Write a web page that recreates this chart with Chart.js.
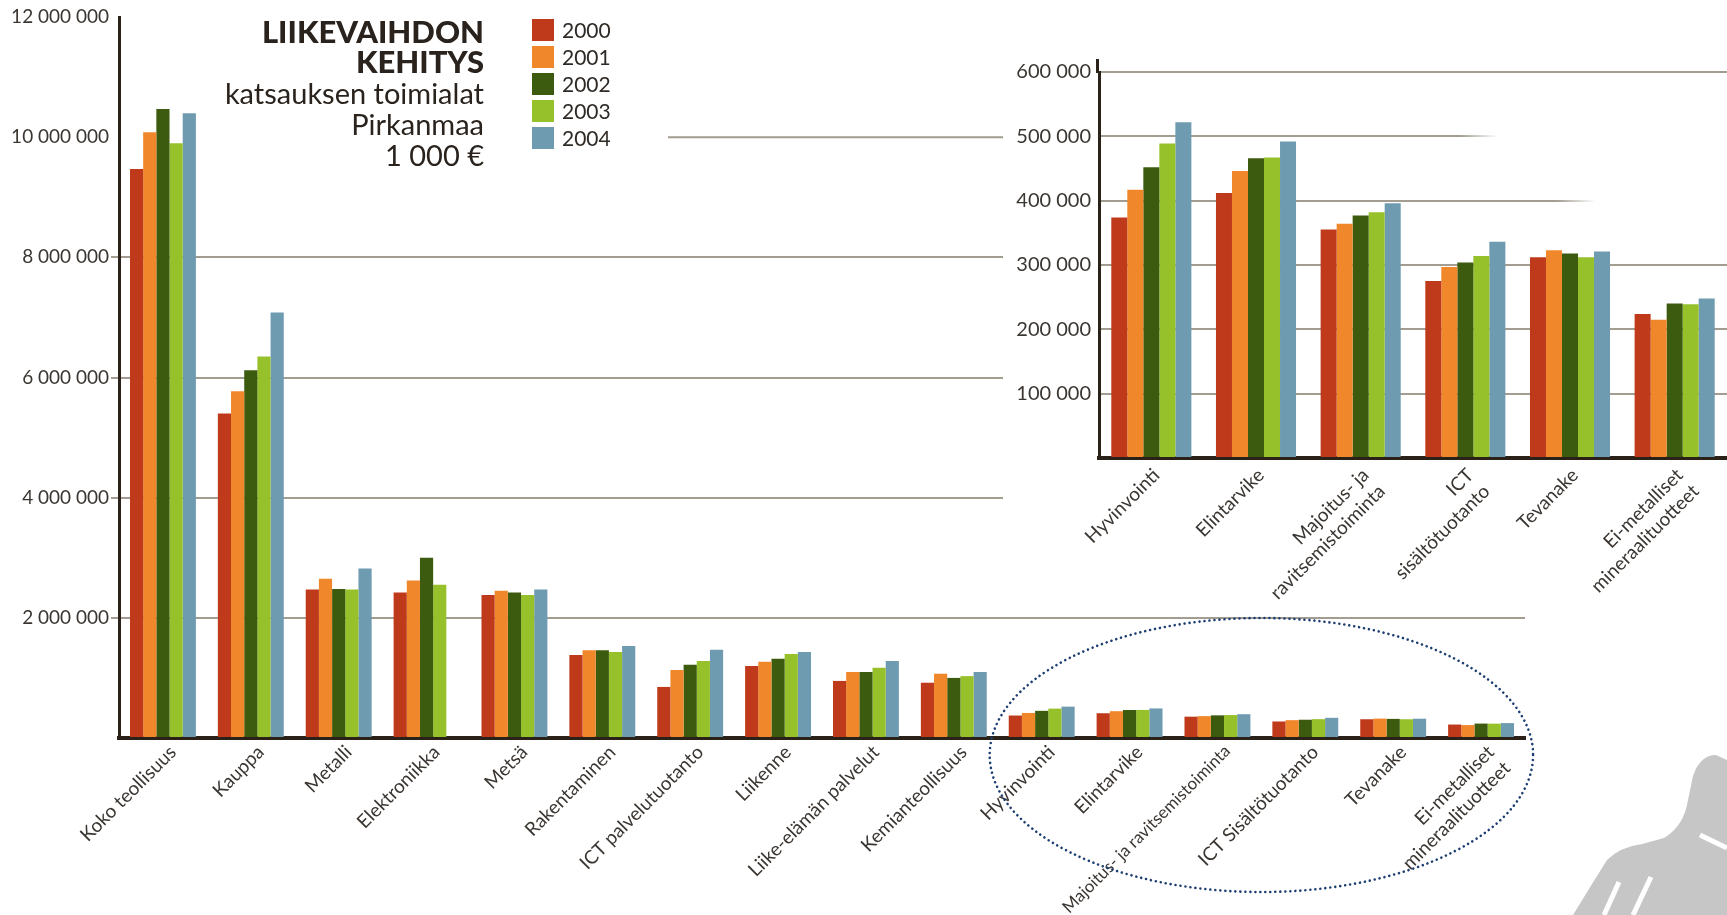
<!DOCTYPE html>
<html><head><meta charset="utf-8">
<script src="https://cdn.jsdelivr.net/npm/chart.js@4.4.0/dist/chart.umd.min.js"></script>
<style>
html,body{margin:0;padding:0;background:#fff;overflow:hidden}
#wrap{position:relative;width:1727px;height:915px;background:#fff}
#main{position:absolute;left:0;top:0}
#inset{position:absolute;left:1003px;top:0;background:#fff}
</style></head><body>
<div id="wrap"><canvas id="main" width="1727" height="915"></canvas><canvas id="inset" width="724" height="614"></canvas></div>
<script>
// ---------- DATA (1 000 €) ----------
const categories = ['Koko teollisuus','Kauppa','Metalli','Elektroniikka','Metsä','Rakentaminen','ICT palvelutuotanto','Liikenne','Liike-elämän palvelut','Kemianteollisuus','Hyvinvointi','Elintarvike','Majoitus- ja ravitsemistoiminta','ICT Sisältötuotanto','Tevanake',['Ei-metalliset','mineraalituotteet']];
const years = ['2000','2001','2002','2003','2004'];
const v2000 = [9470000,5400000,2470000,2420000,2380000,1380000,850000,1200000,950000,920000,374000,412000,355000,275000,312000,224000];
const v2001 = [10080000,5770000,2650000,2620000,2450000,1460000,1130000,1270000,1100000,1070000,417000,446000,364000,297000,323000,215000];
const v2002 = [10470000,6120000,2480000,3000000,2420000,1460000,1220000,1320000,1100000,1000000,452000,466000,377000,304000,318000,240000];
const v2003 = [9900000,6350000,2470000,2550000,2380000,1430000,1280000,1400000,1170000,1030000,489000,467000,382000,314000,312000,239000];
const v2004 = [10400000,7080000,2820000,null,2470000,1530000,1470000,1430000,1280000,1100000,522000,492000,396000,336000,321000,248000];
const insetCategories = ['Hyvinvointi','Elintarvike',['Majoitus- ja','ravitsemistoiminta'],['ICT','sisältötuotanto'],'Tevanake',['Ei-metalliset','mineraalituotteet']];
const insetFrom = 10; // inset shows the last six industries
const titleLines = ['LIIKEVAIHDON','KEHITYS'];
const subtitleLines = ['katsauksen toimialat','Pirkanmaa','1 000 €'];
const mainMax = 12000000, mainStep = 2000000;
const insetMax = 600000, insetStep = 100000;

// ---------- STYLE ----------
const colors = ['#bf3a1b','#f0872a','#3d5b0e','#97c12b','#6f9bb1'];
const seriesValues = [v2000,v2001,v2002,v2003,v2004];
const textCol = '#3b3631';
const gridCol = '#a29c91';
const axisCol = '#2a2118';
Chart.defaults.font.family = 'Lato, "Open Sans", sans-serif';
Chart.defaults.color = textCol;
const fmt = v => String(v).replace(/\B(?=(\d{3})+(?!\d))/g, ' ');
const clear = 'rgba(0,0,0,0)';

function makeDatasets(sliceFrom){
  return years.map((y,i)=>({
    label:y,
    data: sliceFrom==null ? seriesValues[i] : seriesValues[i].slice(sliceFrom),
    backgroundColor: colors[i],
    borderWidth:0,
    categoryPercentage: sliceFrom==null ? 0.75 : 0.765,
    barPercentage: 1.0
  }));
}

const decorPlugin = {
  id:'decor',
  beforeDatasetsDraw(chart){
    const {ctx, chartArea, scales} = chart;
    const y10 = scales.y.getPixelForValue(10000000);
    ctx.save();
    ctx.strokeStyle = gridCol; ctx.lineWidth = 2;
    ctx.beginPath(); ctx.moveTo(668, y10); ctx.lineTo(chartArea.right, y10); ctx.stroke();
    ctx.restore();
  },
  afterDraw(chart){
    const {ctx, scales} = chart;
    ctx.save();
    // title block
    ctx.fillStyle = '#2a231d';
    ctx.textAlign = 'right'; ctx.textBaseline = 'alphabetic';
    ctx.font = '900 31px Lato, sans-serif';
    titleLines.forEach((t,i)=> ctx.fillText(t, 484, 43 + i*30));
    ctx.font = '400 29px Lato, sans-serif';
    subtitleLines.forEach((t,i)=> ctx.fillText(t, 484, 104 + i*31));
    // legend
    ctx.textAlign = 'left'; ctx.textBaseline = 'middle';
    ctx.font = '400 21px Lato, sans-serif';
    chart.data.datasets.forEach((ds,i)=>{
      const top = 19 + i*27;
      ctx.fillStyle = ds.backgroundColor;
      ctx.fillRect(532, top, 22, 22);
      ctx.fillStyle = '#2f2a25';
      ctx.fillText(ds.label, 562, top + 12);
    });
    // dotted ellipse around the small industries
    const x0 = scales.x.getPixelForValue(insetFrom);
    const x1 = scales.x.getPixelForValue(categories.length-1);
    const base = scales.y.getPixelForValue(0);
    ctx.strokeStyle = '#1c3e72';
    ctx.lineWidth = 2.6; ctx.lineCap = 'round';
    ctx.setLineDash([0.01, 5]);
    ctx.beginPath();
    ctx.ellipse((x0+x1)/2, base + 17, (x1-x0)/2 + 52, 137, 0, 0, Math.PI*2);
    ctx.stroke();
    ctx.setLineDash([]);
    // grey logo (decoration, bottom right)
    ctx.fillStyle = '#c6c6c6';
    ctx.beginPath();
    ctx.moveTo(1573,915); ctx.lineTo(1592,884); ctx.lineTo(1607,860);
    ctx.quadraticCurveTo(1620,847,1642,844);
    ctx.lineTo(1664,838);
    ctx.quadraticCurveTo(1684,826,1688,800);
    ctx.lineTo(1693,776);
    ctx.quadraticCurveTo(1700,755,1716,755);
    ctx.lineTo(1727,760); ctx.lineTo(1727,915); ctx.closePath(); ctx.fill();
    ctx.strokeStyle = '#fff'; ctx.lineWidth = 5; ctx.lineCap = 'butt';
    ctx.beginPath(); ctx.moveTo(1619,882); ctx.lineTo(1604,915); ctx.stroke();
    ctx.beginPath(); ctx.moveTo(1651,877); ctx.lineTo(1633,915); ctx.stroke();
    ctx.beginPath(); ctx.moveTo(1700,835); ctx.lineTo(1727,848); ctx.stroke();
    ctx.restore();
  }
};

new Chart(document.getElementById('main'), {
  type:'bar',
  data:{ labels: categories, datasets: makeDatasets(null) },
  options:{
    responsive:false, devicePixelRatio:1, animation:false,
    layout:{padding:{top:17,right:202,left:0,bottom:0}},
    plugins:{legend:{display:false}, tooltip:{enabled:false}},
    scales:{
      x:{
        grid:{display:false, drawTicks:false},
        border:{color:axisCol, width:4},
        ticks:{autoSkip:false, maxRotation:45, minRotation:45, padding:3, labelOffset:10,
               font:c=>{ const l = categories[c.index]; return {size: (typeof l === 'string' && l.length > 25) ? 17 : 19}; },
               color:textCol},
        afterFit:s=>{ s.height = 177; }
      },
      y:{
        min:0, max:mainMax,
        ticks:{stepSize:mainStep, padding:2, font:{size:19}, color:textCol, callback:v=> v===0 ? '' : fmt(v)},
        grid:{lineWidth:2, tickLength:8, color:c=> (c.tick && (c.tick.value===0 || c.tick.value>=10000000)) ? clear : gridCol},
        border:{color:axisCol, width:3},
        afterFit:s=>{ s.width = 119; }
      }
    }
  },
  plugins:[decorPlugin]
});

const insetDecor = {
  id:'insetDecor',
  beforeDatasetsDraw(chart){
    const ctx = chart.ctx;
    ctx.save();
    // faded (washed-out) area over the upper right gridlines
    const g = ctx.createLinearGradient(456,136,468,118);
    g.addColorStop(0,'rgba(255,255,255,0)');
    g.addColorStop(1,'rgba(255,255,255,1)');
    ctx.fillStyle = g;
    ctx.beginPath();
    ctx.moveTo(395,95); ctx.lineTo(724,95); ctx.lineTo(724,235); ctx.lineTo(602,235); ctx.closePath();
    ctx.fill();
    // axis line continues a little above the top gridline
    const {chartArea} = chart;
    ctx.strokeStyle = axisCol; ctx.lineWidth = 3;
    ctx.beginPath(); ctx.moveTo(chartArea.left - 1.5, chartArea.top - 13); ctx.lineTo(chartArea.left - 1.5, chartArea.top + 1); ctx.stroke();
    ctx.restore();
  }
};

new Chart(document.getElementById('inset'), {
  type:'bar',
  data:{ labels: insetCategories, datasets: makeDatasets(insetFrom) },
  options:{
    responsive:false, devicePixelRatio:1, animation:false,
    layout:{padding:{top:72,right:0,left:0,bottom:0}},
    plugins:{legend:{display:false}, tooltip:{enabled:false}},
    scales:{
      x:{
        grid:{display:false, drawTicks:false},
        border:{color:axisCol, width:4},
        ticks:{autoSkip:false, maxRotation:45, minRotation:45, padding:6, labelOffset:5, font:{size:19}, color:textCol},
        afterFit:s=>{ s.height = 156; }
      },
      y:{
        min:0, max:insetMax,
        ticks:{stepSize:insetStep, padding:8, font:{size:20}, color:textCol, callback:v=> v===0 ? '' : fmt(v)},
        grid:{lineWidth:2, drawTicks:false, color:c=> (c.tick && c.tick.value===0) ? clear : gridCol},
        border:{color:axisCol, width:3},
        afterFit:s=>{ s.width = 96; }
      }
    }
  },
  plugins:[insetDecor]
});
</script>
</body></html>
